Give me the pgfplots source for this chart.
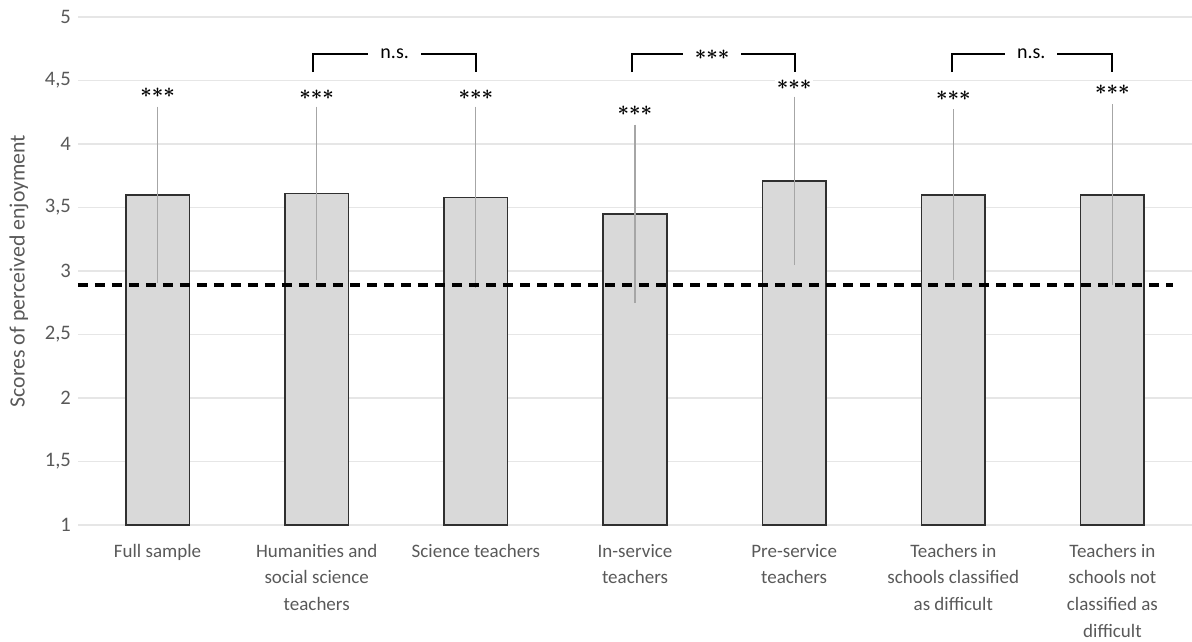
\documentclass[border=0pt]{standalone}
\usepackage{pgfplots}
\pgfplotsset{compat=1.18}
\usepackage{fontspec}
\setmainfont{Carlito}

\definecolor{barfill}{HTML}{D9D9D9}
\definecolor{baredge}{HTML}{303030}
\definecolor{errgray}{HTML}{A6A6A6}
\definecolor{gridgray}{HTML}{E6E6E6}
\definecolor{labgray}{HTML}{595959}

% mean score and standard deviation per group
\pgfplotstableread{
x y err
0 3.60 0.67
1 3.61 0.66
2 3.58 0.69
3 3.45 0.68
4 3.71 0.64
5 3.60 0.65
6 3.60 0.69
}\enjoy

\newcommand{\sigstars}{\mbox{\boldmath${\ast}{\ast}{\ast}$}}

\begin{document}
\begin{tikzpicture}
\begin{axis}[
  scale only axis, width=557pt, height=254pt,
  xmin=-0.5, xmax=6.5, ymin=1, ymax=5,
  xtick={0,1,2,3,4,5,6},
  ytick={1,1.5,2,2.5,3,3.5,4,4.5,5},
  yticklabels={1,{1,5},2,{2,5},3,{3,5},4,{4,5},5},
  xticklabels={Full sample,{Humanities and\\social science\\teachers},Science teachers,{In-service\\teachers},{Pre-service\\teachers},{Teachers in\\schools classified\\as difficult},{Teachers in\\schools not\\classified as\\difficult}},
  xticklabel style={align=center, font=\fontsize{9.5}{13.3}\selectfont, text=labgray, yshift=-6pt},
  yticklabel style={font=\fontsize{10.3}{12}\selectfont, text=labgray},
  ymajorgrids, grid style={gridgray, line width=0.6pt},
  axis line style={draw=none}, major tick length=0pt,
  ylabel={Scores of perceived enjoyment},
  ylabel style={at={(rel axis cs:-0.053,0.5)}, anchor=center, font=\fontsize{10.9}{12}\selectfont, text=labgray},
]
\addplot[ybar, bar width=0.4, fill=barfill, draw=baredge, line width=0.8pt,
  error bars/.cd, y dir=both, y explicit,
  error bar style={errgray, line width=0.6pt},
  error mark options={errgray, mark size=1.5pt, line width=0.6pt}]
  table[x=x, y=y, y error=err] {\enjoy};
\addplot[black, line width=1.6pt, dash pattern=on 5pt off 3.5pt] coordinates {(-0.5,2.89) (6.38,2.89)};

\node[font=\fontsize{10}{10}\selectfont, fill=white, inner xsep=1pt, inner ysep=1.5pt] at (axis cs:0,4.40) {\sigstars};
\node[font=\fontsize{10}{10}\selectfont, fill=white, inner xsep=1pt, inner ysep=1.5pt] at (axis cs:1,4.39) {\sigstars};
\node[font=\fontsize{10}{10}\selectfont, fill=white, inner xsep=1pt, inner ysep=1.5pt] at (axis cs:2,4.39) {\sigstars};
\node[font=\fontsize{10}{10}\selectfont, fill=white, inner xsep=1pt, inner ysep=1.5pt] at (axis cs:3,4.26) {\sigstars};
\node[font=\fontsize{10}{10}\selectfont, fill=white, inner xsep=1pt, inner ysep=1.5pt] at (axis cs:4,4.465) {\sigstars};
\node[font=\fontsize{10}{10}\selectfont, fill=white, inner xsep=1pt, inner ysep=1.5pt] at (axis cs:5,4.38) {\sigstars};
\node[font=\fontsize{10}{10}\selectfont, fill=white, inner xsep=1pt, inner ysep=1.5pt] at (axis cs:6,4.43) {\sigstars};

\draw[line width=1pt] (axis cs:0.975,4.567) |- (axis cs:2,4.709) -- (axis cs:2,4.567);
\draw[line width=1pt] (axis cs:2.98,4.567) |- (axis cs:4.006,4.709) -- (axis cs:4.006,4.567);
\draw[line width=1pt] (axis cs:4.99,4.567) |- (axis cs:6,4.709) -- (axis cs:6,4.567);
\node[fill=white, inner xsep=6pt, inner ysep=1pt, font=\fontsize{10}{12}\selectfont] at (axis cs:1.49,4.709) {n.s.};
\node[fill=white, inner xsep=6pt, inner ysep=1.5pt, font=\fontsize{10}{10}\selectfont] at (axis cs:3.485,4.70) {\sigstars};
\node[fill=white, inner xsep=6pt, inner ysep=1pt, font=\fontsize{10}{12}\selectfont] at (axis cs:5.49,4.709) {n.s.};

\coordinate (bbsw) at (rel axis cs:-0.070,-0.2283);
\coordinate (bbne) at (rel axis cs:1.0,1.0335);
\end{axis}
\pgfresetboundingbox
\path[use as bounding box] (bbsw) rectangle (bbne);
\end{tikzpicture}
\end{document}
